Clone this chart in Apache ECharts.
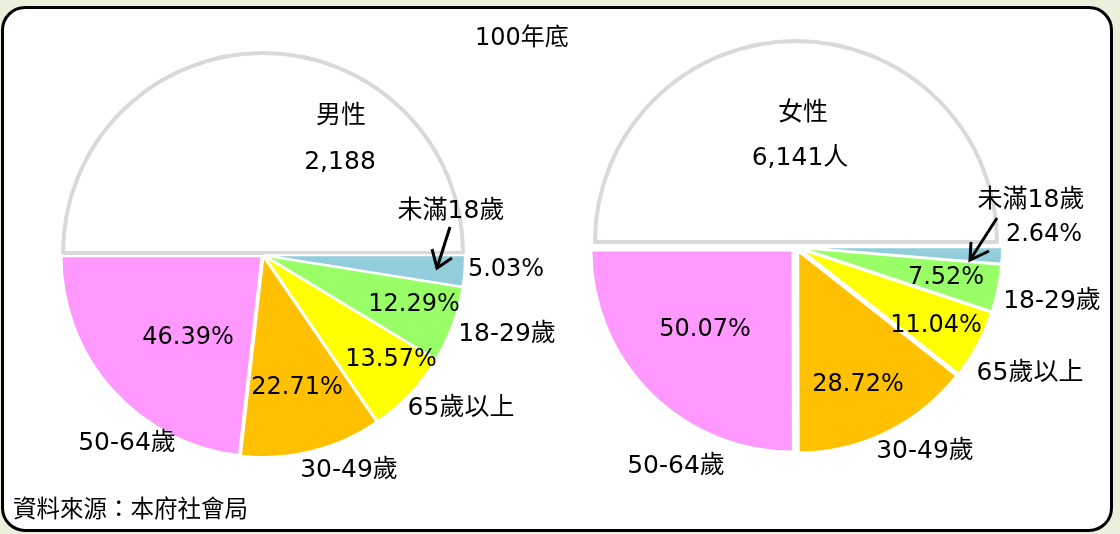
<!DOCTYPE html>
<html>
<head>
<meta charset="utf-8">
<script src="https://cdn.jsdelivr.net/npm/echarts@6/dist/echarts.min.js"></script>
<style>
html, body { margin: 0; padding: 0; }
body { width: 1120px; height: 534px; background: #e9f1dd; position: relative; overflow: hidden; }
.frame {
	position: absolute; left: 1px; top: 6px; width: 1106px; height: 520px;
	border: 3px solid #000; border-radius: 24px; background: #fff;
}
#ageChart { position: absolute; left: 0; top: 0; width: 1120px; height: 534px; }
</style>
</head>
<body>
<div class="frame"></div>
<div id="ageChart"></div>
<script type="text/javascript">
'use strict';
var ageGroups = ['未滿18歲', '18-29歲', '65歲以上', '30-49歲', '50-64歲'];
var malePercent = [5.03, 12.29, 13.57, 22.71, 46.39];
var femalePercent = [2.64, 7.52, 11.04, 28.72, 50.07];
var sexNames = ['男性', '女性'];
var sexTotals = ['2,188', '6,141人'];
var chartTitle = '100年底';
var sourceNote = '資料來源：本府社會局';

var sliceColors = ['#92cddc', '#99ff66', '#ffff00', '#ffc000', '#ff99ff'];
var font = "'DejaVu Sans', 'Noto Sans CJK TC', sans-serif";

// label anchors (first = white half, then the age groups)
var maleNamePos = [[341, 113], [451, 208], [507, 331], [461, 405], [349, 467], [127, 440]];
var malePctPos = [[340, 159], [506, 267], [414, 302], [391, 357], [297, 385], [188, 335]];
var femaleNamePos = [[803, 110], [1031, 197], [1052, 298], [1030, 370], [925, 448], [676, 463]];
var femalePctPos = [[800, 155], [1044, 232], [946, 275], [936, 323], [858, 382], [705, 327]];

function sum(arr) {
	return arr.reduce(function (a, b) { return a + b; }, 0);
}

function pieData(name, pct) {
	var data = [{
		name: name,
		value: sum(pct),
		selected: true,
		itemStyle: { color: '#fff', borderColor: '#d9d9d9', borderWidth: 4 }
	}];
	for (var i = 0; i < pct.length; i++) {
		data.push({
			name: ageGroups[i],
			value: pct[i],
			selected: true,
			itemStyle: { color: sliceColors[i], borderColor: '#fff', borderWidth: 2 }
		});
	}
	return data;
}

function makePie(idx, pct, center, radius, offset) {
	return {
		type: 'pie',
		center: center,
		radius: radius,
		startAngle: 180,
		clockwise: true,
		selectedMode: 'multiple',
		selectedOffset: offset,
		emphasis: { disabled: true },
		animation: false,
		silent: true,
		label: { show: false },
		labelLine: { show: false },
		data: pieData(sexNames[idx], pct)
	};
}

function textAt(str, pos, size) {
	return {
		type: 'text', z: 100, silent: true,
		style: {
			text: str, x: pos[0], y: pos[1] + 3, fill: '#000',
			font: size + 'px ' + font,
			align: 'center', verticalAlign: 'middle',
			textAlign: 'center', textVerticalAlign: 'middle'
		}
	};
}

function pieLabels(idx, pct, namePos, pctPos) {
	var out = [textAt(sexNames[idx], namePos[0], 25), textAt(sexTotals[idx], pctPos[0], 25)];
	for (var i = 0; i < pct.length; i++) {
		out.push(textAt(ageGroups[i], namePos[i + 1], 25));
		out.push(textAt(pct[i].toFixed(2) + '%', pctPos[i + 1], 24));
	}
	return out;
}

function arrow(shaft, tip, arm1, arm2) {
	var st = { stroke: '#000', lineWidth: 3, fill: null };
	return [
		{ type: 'polyline', shape: { points: [shaft, tip] }, style: st, z: 100 },
		{ type: 'polyline', shape: { points: [arm1, tip, arm2] }, style: st, z: 100 }
	];
}

var myChart = echarts.init(document.getElementById('ageChart'));
var option = {
	backgroundColor: 'transparent',
	title: [{
		text: chartTitle, left: 475, top: 27, padding: 0,
		textStyle: { fontSize: 24, fontWeight: 'normal', color: '#000', fontFamily: font }
	}, {
		text: sourceNote, left: 13, top: 499, padding: 0,
		textStyle: { fontSize: 23.5, fontWeight: 'normal', color: '#000', fontFamily: font }
	}],
	graphic: pieLabels(0, malePercent, maleNamePos, malePctPos)
		.concat(pieLabels(1, femalePercent, femaleNamePos, femalePctPos))
		.concat(arrow([450, 227], [437, 268], [432, 249], [452, 258]))
		.concat(arrow([997, 218], [970, 260], [971, 242], [989, 251])),
	series: [
		makePie(0, malePercent, [263, 255], 200, 2),
		makePie(1, femalePercent, [796, 247], 201, 5)
	]
};
myChart.setOption(option);
</script>
</body>
</html>
